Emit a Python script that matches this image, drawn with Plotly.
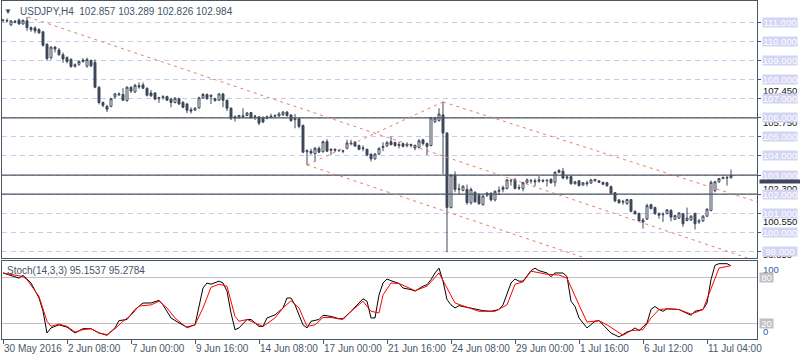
import plotly.graph_objects as go

symbol = "USDJPY,H4"
stoch_name = "Stoch(14,3,3)"

tick_bars = [0, 16, 32, 48, 64, 80, 96, 112, 128, 144, 160, 176]
tick_labels = ["30 May 2016", "2 Jun 08:00", "7 Jun 00:00", "9 Jun 16:00", "14 Jun 08:00",
               "17 Jun 00:00", "21 Jun 16:00", "24 Jun 08:00", "29 Jun 00:00", "1 Jul 16:00",
               "6 Jul 12:00", "11 Jul 04:00"]

opens = [111.12, 111.10, 110.86, 111.05, 111.12, 110.91, 111.08, 110.72, 110.70, 110.62,
         110.50, 109.85, 109.15, 109.70, 109.55, 109.30, 109.15, 109.05, 108.70, 108.80,
         108.95, 108.70, 109.00, 108.90, 107.60, 106.80, 106.60, 106.60, 107.10, 107.20,
         107.22, 106.90, 107.60, 107.35, 107.68, 107.72, 107.55, 107.30, 107.30, 107.00,
         107.05, 107.12, 106.98, 106.80, 107.00, 106.80, 106.72, 106.42, 106.40, 106.52,
         107.05, 107.22, 107.18, 107.00, 106.92, 107.25, 106.92, 106.50, 106.00, 106.05,
         106.05, 106.12, 106.28, 106.05, 106.05, 105.98, 105.98, 106.02, 106.08, 106.10,
         106.15, 106.30, 106.15, 105.90, 105.95, 105.60, 104.22, 104.25, 104.12, 104.40,
         104.22, 104.75, 104.30, 104.35, 104.30, 104.28, 104.40, 104.68, 104.72, 104.55,
         104.38, 104.35, 104.10, 103.85, 104.10, 104.45, 104.52, 104.75, 104.70, 104.55,
         104.65, 104.55, 104.60, 104.55, 104.45, 104.85, 104.65, 104.55, 105.80, 105.85,
         106.15, 105.20, 101.30, 103.00, 102.25, 102.20, 102.25, 101.55, 102.10, 101.95,
         101.45, 101.95, 102.05, 101.70, 102.15, 102.25, 102.30, 102.72, 102.75, 102.35,
         102.30, 102.60, 102.72, 102.70, 102.68, 102.72, 102.70, 102.78, 102.62, 103.25,
         103.20, 102.85, 102.92, 102.55, 102.70, 102.48, 102.60, 102.58, 102.70, 102.70,
         102.62, 102.60, 102.40, 102.08, 101.70, 101.58, 101.50, 101.72, 101.10, 101.00,
         100.65, 100.70, 101.45, 101.30, 100.98, 100.92, 100.98, 101.15, 100.68, 100.75,
         100.98, 100.62, 100.65, 101.00, 100.55, 100.60, 100.85, 101.15, 102.18, 102.65,
         102.82, 102.88, 102.857]
highs = [111.17, 111.20, 111.12, 111.12, 111.20, 111.15, 111.28, 110.78, 110.80, 110.68,
         110.55, 109.90, 109.75, 109.75, 109.65, 109.42, 109.22, 109.12, 108.85, 109.00,
         109.12, 109.15, 109.05, 109.05, 107.65, 106.85, 106.68, 107.05, 107.30, 107.32,
         107.55, 107.65, 107.65, 107.78, 107.85, 107.85, 107.58, 107.45, 107.35, 107.10,
         107.18, 107.15, 107.05, 107.08, 107.05, 106.88, 106.78, 106.55, 106.55, 107.10,
         107.30, 107.28, 107.22, 107.05, 107.28, 107.30, 106.95, 106.55, 106.12, 106.15,
         106.50, 106.30, 106.30, 106.15, 106.08, 106.08, 106.12, 106.22, 106.18, 106.30,
         106.35, 106.35, 106.18, 106.20, 105.98, 105.65, 104.35, 104.38, 104.48, 104.50,
         104.80, 104.88, 104.40, 104.40, 104.35, 104.32, 104.85, 104.85, 104.78, 104.60,
         104.55, 104.38, 104.12, 104.15, 104.45, 104.72, 104.78, 105.02, 104.75, 104.75,
         104.68, 104.72, 104.65, 104.60, 104.88, 104.90, 104.70, 106.05, 106.05, 106.50,
         106.85, 105.25, 103.05, 103.20, 102.55, 102.45, 102.50, 102.35, 102.15, 102.05,
         101.95, 102.12, 102.10, 102.20, 102.40, 102.45, 102.80, 102.82, 102.85, 102.50,
         102.65, 102.82, 102.80, 102.82, 102.95, 102.80, 102.80, 102.82, 103.20, 103.30,
         103.38, 103.00, 102.95, 102.70, 102.75, 102.62, 102.70, 102.80, 102.80, 102.72,
         102.65, 102.65, 102.45, 102.10, 101.75, 101.70, 101.75, 101.75, 101.15, 101.02,
         100.75, 101.50, 101.50, 101.35, 101.05, 101.05, 101.22, 101.22, 100.92, 101.05,
         101.00, 101.30, 100.90, 101.00, 100.70, 100.90, 101.25, 102.72, 102.70, 102.85,
         102.92, 102.95, 103.289]
lows = [111.02, 111.00, 110.81, 110.95, 110.88, 110.88, 110.55, 110.50, 110.42, 110.40,
        109.72, 109.00, 109.05, 109.42, 109.25, 108.88, 108.85, 108.62, 108.62, 108.72,
        108.88, 108.62, 108.65, 107.55, 106.70, 106.55, 106.30, 106.55, 106.98, 107.15,
        106.88, 106.85, 107.30, 107.30, 107.52, 107.50, 107.12, 107.10, 106.92, 106.78,
        106.95, 106.88, 106.55, 106.75, 106.68, 106.50, 106.25, 106.22, 106.38, 106.48,
        107.00, 106.95, 106.72, 106.85, 106.88, 106.55, 106.35, 105.88, 105.80, 105.95,
        105.98, 106.08, 105.95, 105.88, 105.62, 105.72, 105.92, 106.00, 106.02, 106.05,
        106.10, 106.05, 105.80, 105.45, 105.45, 104.15, 103.52, 104.08, 103.72, 104.15,
        104.18, 104.20, 104.05, 104.20, 104.22, 104.15, 104.35, 104.55, 104.48, 104.30,
        104.25, 103.98, 103.72, 103.80, 104.05, 104.25, 104.48, 104.55, 104.48, 104.40,
        104.45, 104.45, 104.45, 104.30, 104.40, 104.55, 104.05, 104.50, 105.72, 105.80,
        103.05, 98.96, 101.25, 102.10, 102.00, 102.15, 101.45, 101.45, 101.55, 101.45,
        101.40, 101.85, 101.62, 101.62, 101.95, 102.10, 102.25, 102.45, 102.25, 102.22,
        102.15, 102.55, 102.55, 102.42, 102.60, 102.62, 102.40, 102.55, 102.40, 103.10,
        102.78, 102.75, 102.50, 102.50, 102.40, 102.45, 102.42, 102.55, 102.65, 102.58,
        102.48, 102.38, 101.98, 101.58, 101.50, 101.45, 101.45, 101.05, 100.92, 100.58,
        100.20, 100.65, 101.20, 100.92, 100.72, 100.55, 100.95, 100.58, 100.65, 100.70,
        100.30, 100.58, 100.60, 100.15, 100.45, 100.55, 100.80, 101.10, 102.10, 102.60,
        102.78, 102.45, 102.826]
closes = [111.10, 111.07, 111.07, 111.00, 110.91, 111.10, 110.72, 110.62, 110.55, 110.45,
          109.80, 109.10, 109.70, 109.60, 109.30, 109.08, 108.95, 108.68, 108.78, 108.95,
          109.02, 109.05, 108.72, 107.60, 106.80, 106.65, 106.45, 107.00, 107.25, 107.25,
          106.92, 107.60, 107.40, 107.70, 107.62, 107.55, 107.18, 107.15, 106.98, 107.05,
          107.10, 106.92, 106.80, 107.02, 106.72, 106.55, 106.40, 106.35, 106.50, 107.05,
          107.22, 107.00, 107.12, 106.90, 107.25, 106.92, 106.50, 105.98, 106.05, 106.12,
          106.10, 106.25, 106.00, 106.08, 105.72, 105.78, 106.05, 106.08, 106.12, 106.20,
          106.30, 106.12, 105.85, 105.95, 105.55, 104.20, 104.28, 104.15, 104.40, 104.20,
          104.75, 104.25, 104.35, 104.30, 104.28, 104.25, 104.68, 104.65, 104.52, 104.35,
          104.42, 104.05, 103.85, 104.10, 104.40, 104.50, 104.70, 104.60, 104.55, 104.60,
          104.50, 104.62, 104.55, 104.42, 104.80, 104.65, 104.50, 106.00, 105.98, 106.20,
          105.20, 101.30, 103.00, 102.25, 102.28, 102.42, 101.55, 102.25, 101.60, 101.50,
          101.90, 102.05, 101.70, 102.15, 102.20, 102.35, 102.75, 102.70, 102.30, 102.32,
          102.60, 102.75, 102.70, 102.65, 102.75, 102.68, 102.72, 102.60, 103.15, 103.15,
          102.85, 102.90, 102.55, 102.65, 102.45, 102.60, 102.55, 102.75, 102.78, 102.62,
          102.52, 102.45, 102.05, 101.65, 101.55, 101.62, 101.72, 101.10, 100.98, 100.60,
          100.55, 101.40, 101.25, 100.98, 100.90, 100.95, 101.18, 100.80, 100.88, 101.02,
          100.45, 100.75, 100.85, 100.45, 100.60, 100.85, 101.22, 102.62, 102.65, 102.82,
          102.88, 102.85, 102.984]
bars = list(range(len(opens)))

k_bars = [0, 1, 4, 5, 7, 9, 10, 11, 12, 14, 16, 18, 20, 22, 24, 26, 28, 29, 31, 33, 34, 35, 37, 39,
          40, 42, 44, 46, 48, 49, 50, 51, 52, 54, 55, 56, 57, 58, 59, 61, 62, 64, 65, 66, 68, 70,
          71, 72, 73, 75, 76, 77, 79, 80, 82, 84, 85, 87, 90, 91, 92, 93, 94, 95, 96, 97, 99, 100,
          102, 103, 105, 106, 107, 108, 109, 110, 111, 112, 113, 114, 116, 118, 120, 122, 124, 125,
          127, 128, 129, 130, 132, 133, 134, 136, 137, 138, 140, 141, 142, 143, 144, 146, 147, 148,
          149, 150, 152, 154, 156, 157, 158, 159, 161, 162, 163, 164, 165, 166, 169, 172, 173, 175,
          176, 177, 178, 179, 181, 182]
k_vals = [85.7, 84, 79, 82.6, 72.6, 53, 36, 7.4, 14, 18, 15, 7.4, 13, 13, 7.4, 4.4, 14, 23.5, 25, 38,
          42.6, 46.5, 46.5, 50, 44, 27, 20.5, 15, 18, 40, 66, 72.6, 71, 75, 72.6, 62, 33.5, 11.7, 14,
          25, 25, 16, 16, 27, 31, 40, 53, 53, 44, 18, 14, 22.7, 25, 30.5, 29, 26, 26, 35.7, 52, 48.8,
          27, 27, 57, 72.6, 77.8, 75.6, 72, 66, 64, 62, 68.4, 70.4, 77, 85.7, 92, 75, 51, 44, 40, 43,
          41, 39, 36.5, 35.7, 38, 44, 72.6, 77.8, 75, 75, 88.7, 92, 88.7, 85.7, 81, 85.7, 85.7, 81,
          48.8, 42, 27, 14, 18, 22.7, 23.5, 18, 7.4, 2.2, 8.7, 10.4, 14, 10.4, 20.5, 38, 42, 38, 35.7,
          39, 38, 30.5, 35.7, 38, 46.5, 77, 95.7, 97.8, 97.8, 95.1537]
d_bars = [0, 5, 6, 9, 11, 12, 14, 16, 18, 20, 22, 24, 26, 28, 30, 32, 34, 37, 39, 41, 43, 46, 48, 50,
          52, 54, 56, 58, 59, 61, 62, 65, 68, 70, 72, 74, 76, 78, 80, 82, 85, 87, 90, 92, 94, 95, 97,
          99, 100, 103, 106, 109, 113, 116, 119, 123, 126, 128, 130, 132, 136, 139, 141, 144, 146,
          149, 151, 155, 157, 160, 162, 164, 166, 169, 172, 175, 177, 179, 182]
d_vals = [85.7, 81, 77, 55, 22.7, 16, 19, 16, 8.7, 11.7, 13, 7.4, 5.2, 13, 22.7, 30.5, 42.6, 44, 48.8,
          40, 27, 14, 18, 40, 67, 71, 68.4, 29, 22.7, 25, 22.7, 16, 27, 40, 49.5, 40, 16, 18, 27.5,
          27.5, 25, 35.7, 48.8, 35.7, 33.5, 57, 72.6, 72, 69.6, 62.6, 68.4, 85.7, 46.5, 41, 35.7, 35.7,
          44, 71, 74, 88, 84, 83, 79, 44, 21.7, 23.5, 18, 4.4, 10.4, 11.7, 27, 38, 39, 38, 32, 38, 66,
          92, 95.2784]

price_grid = list(range(99, 112))
levels = [106.0, 103.0, 102.0]
marked_prices = [107.45, 105.75, 102.30, 100.55, 98.85]
trend_starts = [(6.25, 111.28), (76, 103.53), (76, 103.53), (110, 106.83)]
trend_ends = [(187.5, 98.56), (110, 106.83), (146, 98.62), (188.5, 101.60)]
stoch_levels = [20, 80]

X_RANGE = [-0.25, 188.5]
Y_RANGE = [98.633, 112.115]
MAIN_DOMAIN = [0.2382, 1]
CANDLE = "#3e485a"
AXIS = "#4a5563"
GRID = "#c9c9f0"
LAV = "#d4d4f4"
TXT = "#4a5868"
FONT = "Liberation Sans, Arial, sans-serif"


def px(x):
    return (x - 2) / 755.0


def py(y):
    return (339 - y) / 338.0


fig = go.Figure()
for lv in levels:
    fig.add_trace(go.Scatter(x=X_RANGE, y=[lv, lv], mode="lines", xaxis="x", yaxis="y",
                             line=dict(color="#4e5663", width=1.3), hoverinfo="skip", showlegend=False))
for (b0, p0), (b1, p1) in zip(trend_starts, trend_ends):
    fig.add_trace(go.Scatter(x=[b0, b1], y=[p0, p1], mode="lines", xaxis="x", yaxis="y",
                             line=dict(color="#e67a7a", width=1, dash="3px,4px"),
                             hoverinfo="skip", showlegend=False))
fig.add_trace(go.Candlestick(x=bars, open=opens, high=highs, low=lows, close=closes,
                             xaxis="x", yaxis="y", whiskerwidth=0, showlegend=False,
                             increasing=dict(line=dict(color=CANDLE, width=1), fillcolor="white"),
                             decreasing=dict(line=dict(color=CANDLE, width=1), fillcolor=CANDLE)))
fig.add_trace(go.Scatter(x=k_bars, y=k_vals, mode="lines", xaxis="x2", yaxis="y2",
                         line=dict(color="black", width=1), showlegend=False))
fig.add_trace(go.Scatter(x=d_bars, y=d_vals, mode="lines", xaxis="x2", yaxis="y2",
                         line=dict(color="#ff0000", width=1), showlegend=False))

ann = []
ann.append(dict(text="▼", xref="paper", yref="paper", x=px(8), y=py(11), showarrow=False,
                font=dict(size=8, color="#3a4454", family=FONT), xanchor="center", yanchor="middle"))
head = f"{symbol}\u00a0\u00a0{opens[-1]:.3f} {highs[-1]:.3f} {lows[-1]:.3f} {closes[-1]:.3f}"
ann.append(dict(text=head, xref="paper", yref="paper", x=px(18), y=py(11), showarrow=False,
                font=dict(size=10, color="#44546a", family=FONT), xanchor="left", yanchor="middle"))
ann.append(dict(text=f"{stoch_name} {k_vals[-1]:.4f} {d_vals[-1]:.4f}", xref="paper", yref="paper",
                x=px(5), y=py(270), showarrow=False, font=dict(size=10, color="#44546a", family=FONT),
                xanchor="left", yanchor="middle"))

for mp in marked_prices:
    ann.append(dict(text=f"{mp:.3f}", xref="paper", yref="y", x=1, y=mp, xanchor="left", xshift=4,
                    showarrow=False, font=dict(size=9.5, color="#111111", family=FONT)))
for p in price_grid:
    ann.append(dict(text=f"{p:.3f}", xref="paper", yref="y", x=1, y=p, xanchor="left", xshift=5,
                    showarrow=False, bgcolor=LAV, width=34, height=9, borderpad=0,
                    font=dict(size=9.5, color="white", family=FONT)))
# dark current-price marker strip peeking out below the 103.000 box
ann.append(dict(text=" ", xref="paper", yref="y", x=1, y=closes[-1], xanchor="left", yanchor="middle",
                xshift=2, yshift=-6.5, showarrow=False, bgcolor=CANDLE, width=41, height=2.5,
                borderpad=0, font=dict(size=2, color=CANDLE, family=FONT)))

ann.append(dict(text="100", xref="paper", yref="y2", x=1, y=100, xanchor="left", yanchor="top", xshift=4,
                showarrow=False, font=dict(size=9.5, color="#2a5caa", family=FONT)))
ann.append(dict(text="0", xref="paper", yref="y2", x=1, y=0, xanchor="left", yanchor="bottom", xshift=4,
                showarrow=False, font=dict(size=9.5, color="#2a5caa", family=FONT)))
for lv in stoch_levels:
    ann.append(dict(text=str(lv), xref="paper", yref="y2", x=1, y=lv, xanchor="left", xshift=2,
                    showarrow=False, bgcolor="#c0c0c0", width=13, height=9, borderpad=0,
                    font=dict(size=9.5, color="white", family=FONT)))

fig.update_layout(
    width=800, height=360, margin=dict(l=2, r=43, t=1, b=21, autoexpand=False),
    paper_bgcolor="white", plot_bgcolor="white", showlegend=False,
    annotations=ann,
    xaxis=dict(domain=[0, 1], anchor="y", range=X_RANGE, showticklabels=False, ticks="",
               showgrid=False, zeroline=False, showline=True, linecolor=AXIS, linewidth=1, mirror=True,
               rangeslider=dict(visible=False), automargin=False),
    yaxis=dict(domain=MAIN_DOMAIN, anchor="x", side="right", range=Y_RANGE,
               tickmode="array", tickvals=price_grid, showticklabels=False, ticks="outside", ticklen=3,
               tickcolor=AXIS, showgrid=True, gridcolor=GRID, griddash="5px,4px", gridwidth=1,
               zeroline=False, showline=True, linecolor=AXIS, linewidth=1, mirror=True, automargin=False),
    xaxis2=dict(domain=[0, 1], anchor="y2", matches="x", range=X_RANGE, tickmode="array",
                tickvals=tick_bars, ticktext=tick_labels, ticks="outside", ticklen=4, tickcolor=AXIS,
                tickangle=0, ticklabelposition="outside right",
                tickfont=dict(size=10, color=TXT, family=FONT), automargin=False,
                showgrid=False, zeroline=False, showline=True, linecolor=AXIS, linewidth=1, mirror=True),
    yaxis2=dict(domain=[0, 0.2322], anchor="x2", side="right", range=[-0.46, 101.93],
                tickmode="array", tickvals=stoch_levels, showticklabels=False, ticks="",
                showgrid=True, gridcolor="#c0c0c0", gridwidth=1, zeroline=False, automargin=False,
                showline=True, linecolor=AXIS, linewidth=1, mirror=True),
)

fig.write_html("out.html", config={"displayModeBar": False},
               post_script="document.body.style.margin='0';document.body.style.padding='0';")
